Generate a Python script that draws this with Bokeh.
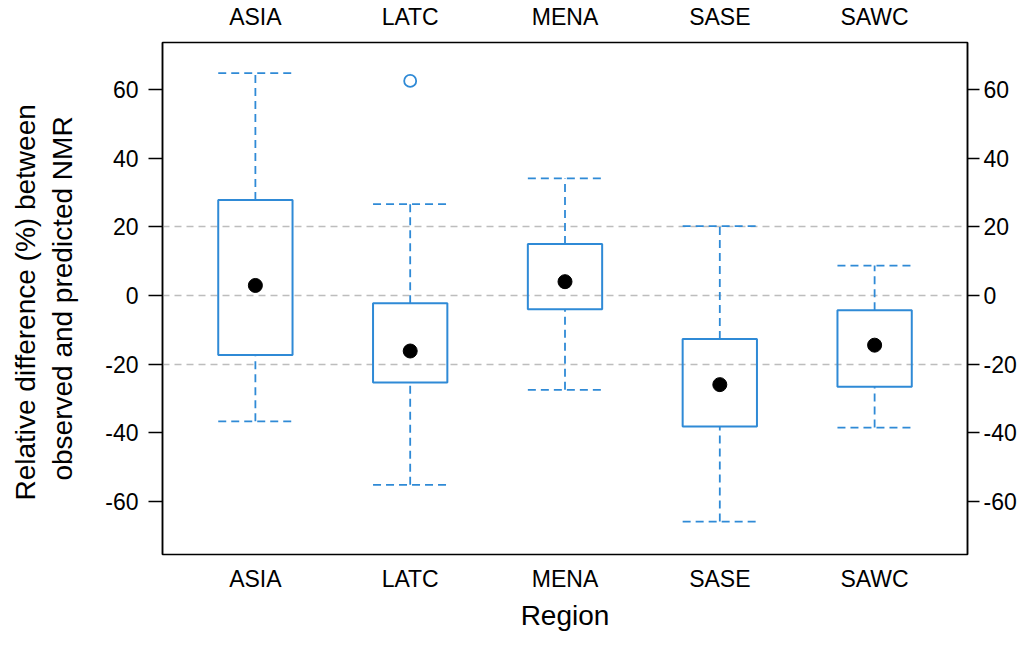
from bokeh.plotting import figure
from bokeh.models import LinearAxis, FixedTicker, Range1d, ColumnDataSource
from bokeh.embed import file_html
from bokeh.resources import INLINE

# ---- data ----
regions = ["ASIA", "LATC", "MENA", "SASE", "SAWC"]
lower_whisker = [-36.7, -55.2, -27.5, -65.9, -38.5]
q1 = [-17.4, -25.4, -4.0, -38.2, -26.6]
median = [2.9, -16.2, 4.0, -26.0, -14.5]
q3 = [27.8, -2.3, 15.0, -12.7, -4.3]
upper_whisker = [64.8, 26.6, 34.1, 20.2, 8.7]
outlier_region = ["LATC"]
outlier_value = [62.5]
y_ticks = [-60, -40, -20, 0, 20, 40, 60]
y_tick_labels = ["-60", "-40", "-20", "0", "20", "40", "60"]
ref_lines = [-20, 0, 20]

BLUE = "#2f8ad6"
FONT = "Liberation Sans"
HALF = 0.24

xs = [i + 1 for i in range(len(regions))]
src = ColumnDataSource(dict(
    x=xs,
    x0=[x - HALF for x in xs],
    x1=[x + HALF for x in xs],
    lo=lower_whisker, q1=q1, med=median, q3=q3, hi=upper_whisker,
))
out_src = ColumnDataSource(dict(
    x=[regions.index(r) + 1 for r in outlier_region],
    y=outlier_value,
))

p = figure(width=1019, height=633, output_backend="svg", toolbar_location=None,
           x_range=Range1d(0.4, 5.6), y_range=Range1d(-75.5, 73.7),
           min_border_left=162, min_border_right=48, min_border_top=40,
           min_border_bottom=74)
p.background_fill_color = "white"
p.border_fill_color = "white"
p.outline_line_color = "black"
p.outline_line_width = 1.5

# grid
p.xgrid.visible = False
p.ygrid.ticker = FixedTicker(ticks=ref_lines)
p.ygrid.grid_line_color = "#bdbdbd"
p.ygrid.grid_line_dash = "7 5"
p.ygrid.grid_line_width = 1.3

x_overrides = {x: r for x, r in zip(xs, regions)}
y_overrides = {t: s for t, s in zip(y_ticks, y_tick_labels)}

def style_x(ax):
    ax.ticker = FixedTicker(ticks=xs)
    ax.major_label_overrides = x_overrides
    ax.major_tick_line_color = None
    ax.minor_tick_line_color = None
    ax.axis_line_color = None
    ax.major_label_text_font = FONT
    ax.major_label_text_font_size = "23px"
    ax.major_label_text_color = "black"
    ax.major_label_standoff = 5

def style_y(ax):
    ax.ticker = FixedTicker(ticks=y_ticks)
    ax.major_label_overrides = y_overrides
    ax.major_tick_out = 14
    ax.major_tick_in = 0
    ax.major_tick_line_color = "black"
    ax.major_tick_line_width = 1.5
    ax.minor_tick_line_color = None
    ax.axis_line_color = "black"
    ax.axis_line_width = 1.5
    ax.major_label_text_font = FONT
    ax.major_label_text_font_size = "23px"
    ax.major_label_text_color = "black"

style_x(p.xaxis[0])
p.xaxis[0].axis_label = "Region"
p.xaxis[0].axis_label_text_font = FONT
p.xaxis[0].axis_label_text_font_size = "28px"
p.xaxis[0].axis_label_text_font_style = "normal"
p.xaxis[0].axis_label_text_color = "black"
p.xaxis[0].axis_label_standoff = 5

style_y(p.yaxis[0])
p.yaxis[0].major_label_standoff = 10
p.yaxis[0].axis_label = "Relative difference (%)  between\nobserved and predicted NMR"
p.yaxis[0].axis_label_text_font = FONT
p.yaxis[0].axis_label_text_font_size = "28px"
p.yaxis[0].axis_label_text_font_style = "normal"
p.yaxis[0].axis_label_text_color = "black"
p.yaxis[0].axis_label_standoff = 24

top = LinearAxis()
style_x(top)
top.major_label_standoff = 7
p.add_layout(top, "above")

right = LinearAxis()
style_y(right)
right.major_tick_out = 12
right.major_label_standoff = 4
p.add_layout(right, "right")

# whiskers
p.segment(x0="x", x1="x", y0="q3", y1="hi", source=src, line_color=BLUE,
          line_width=1.8, line_dash="8 5")
p.segment(x0="x", x1="x", y0="lo", y1="q1", source=src, line_color=BLUE,
          line_width=1.8, line_dash="8 5")
# caps
p.segment(x0="x0", x1="x1", y0="hi", y1="hi", source=src, line_color=BLUE,
          line_width=1.8, line_dash="8 5")
p.segment(x0="x0", x1="x1", y0="lo", y1="lo", source=src, line_color=BLUE,
          line_width=1.8, line_dash="8 5")
# boxes
p.vbar(x="x", width=2 * HALF, bottom="q1", top="q3", source=src,
       fill_color=None, line_color=BLUE, line_width=2)
# medians
p.scatter(x="x", y="med", source=src, size=14, marker="circle",
          fill_color="black", line_color="black")
# outliers
p.scatter(x="x", y="y", source=out_src, size=12, marker="circle",
          fill_color=None, line_color=BLUE, line_width=1.8)

open("out.html", "w").write(file_html(p, INLINE))
